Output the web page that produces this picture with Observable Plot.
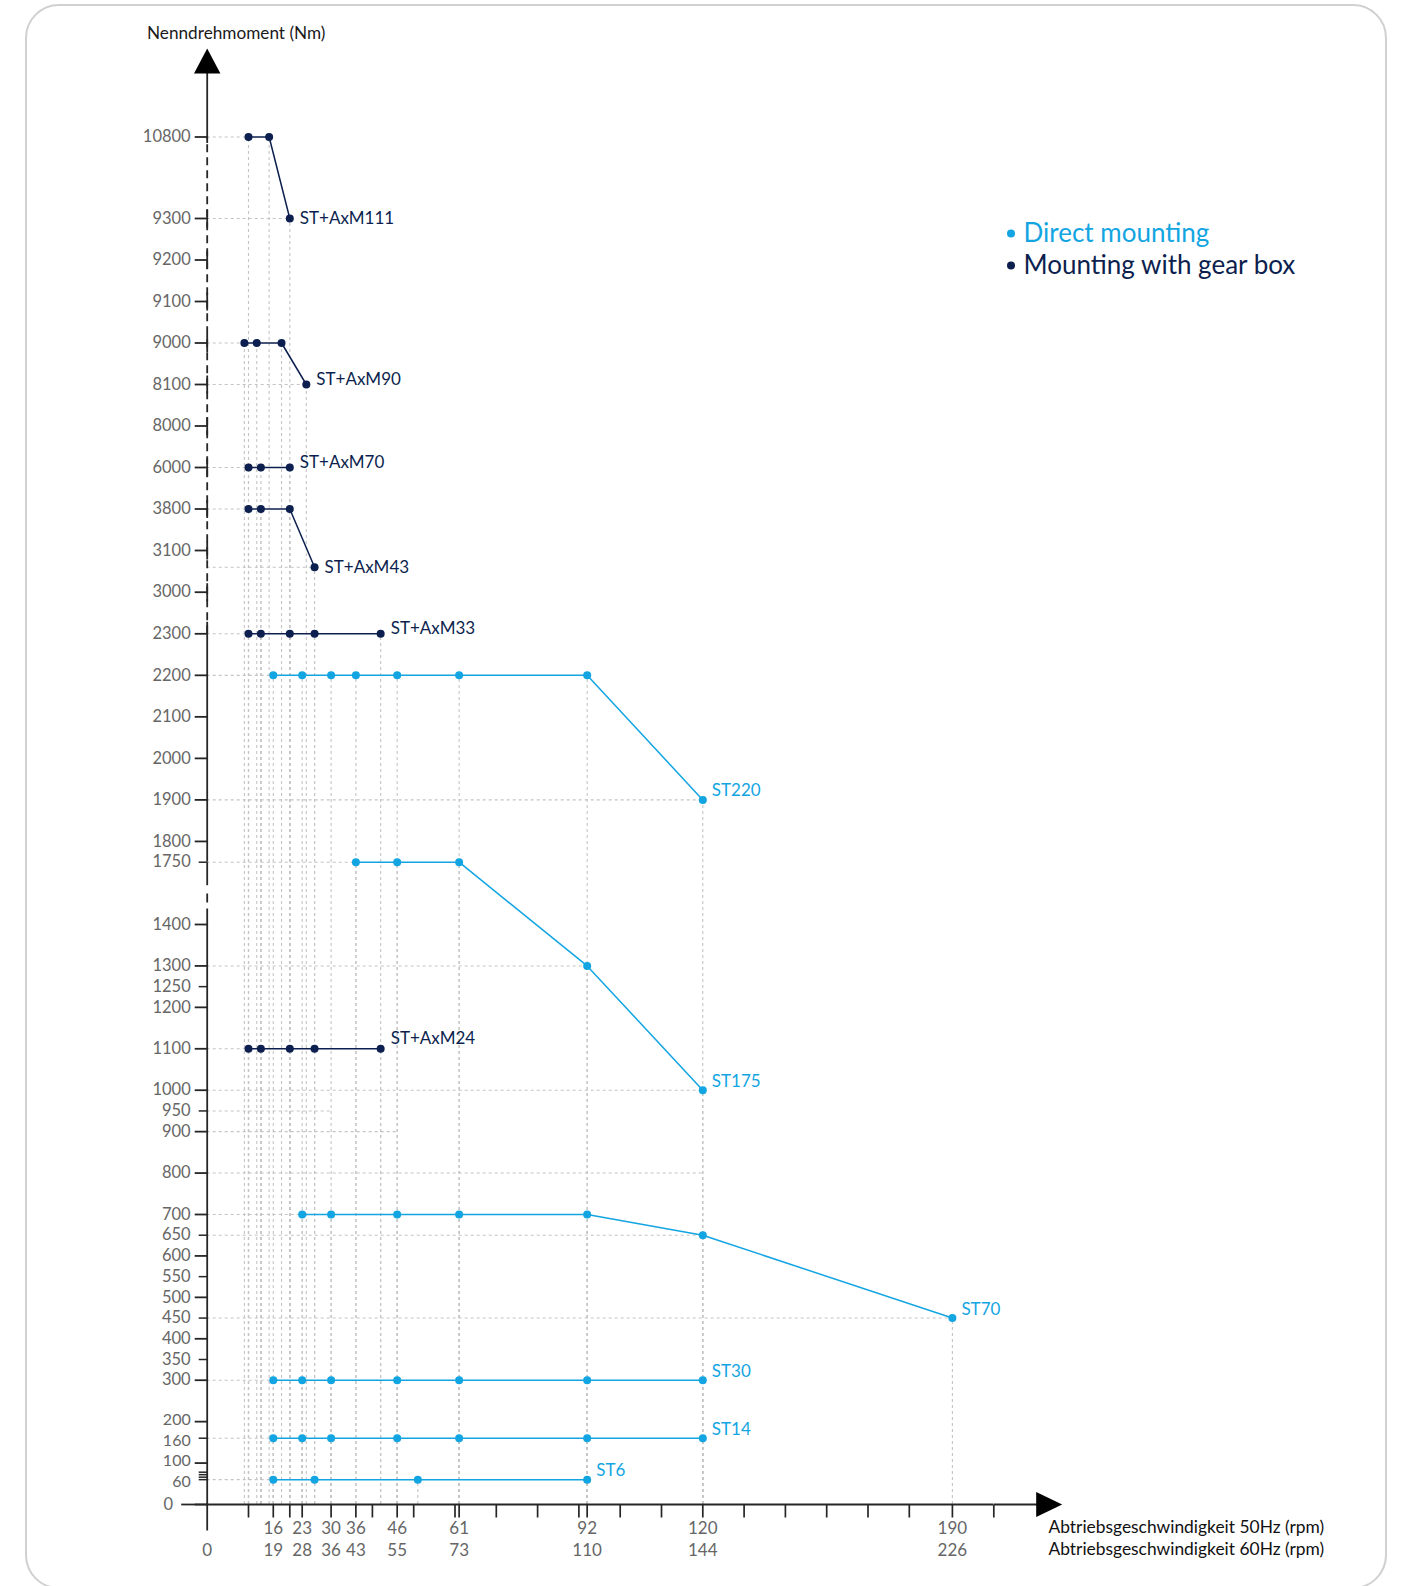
<!DOCTYPE html>
<html>
<head>
<meta charset="utf-8">
<script src="https://cdn.jsdelivr.net/npm/d3@7"></script>
<script src="https://cdn.jsdelivr.net/npm/@observablehq/plot@0.6"></script>
<style>
html, body { margin: 0; padding: 0; background: #fff; overflow: hidden; }
#wrap { position: relative; width: 1401px; height: 1586px; }
#border { position: absolute; left: 25.4px; top: 4.4px; width: 1362px; height: 1585px; box-sizing: border-box;
  border: 2.6px solid #d0d0d0; border-radius: 34px; pointer-events: none; }
</style>
</head>
<body>
<div id="wrap"><div id="border"></div></div>
<script>
// ---------------- data ----------------
const gearNames   = ["ST+AxM111", "ST+AxM90", "ST+AxM70", "ST+AxM43", "ST+AxM33", "ST+AxM24"];
const gearSpeeds  = [[10, 15, 20], [9, 12, 18, 24], [10, 13, 20], [10, 13, 20, 26], [10, 13, 20, 26, 42], [10, 13, 20, 26, 42]];
const gearTorques = [[10800, 10800, 9300], [9000, 9000, 9000, 8100], [6000, 6000, 6000], [3800, 3800, 3800, 3060],
                     [2300, 2300, 2300, 2300, 2300], [1100, 1100, 1100, 1100, 1100]];

const directNames   = ["ST220", "ST175", "ST70", "ST30", "ST14", "ST6"];
const directSpeeds  = [[16, 23, 30, 36, 46, 61, 92, 120], [36, 46, 61, 92, 120], [23, 30, 46, 61, 92, 120, 190],
                       [16, 23, 30, 46, 61, 92, 120], [16, 23, 30, 46, 61, 92, 120], [16, 26, 51, 92]];
const directTorques = [[2200, 2200, 2200, 2200, 2200, 2200, 2200, 1900], [1750, 1750, 1750, 1300, 1000],
                       [700, 700, 700, 700, 700, 650, 450], [300, 300, 300, 300, 300, 300, 300],
                       [160, 160, 160, 160, 160, 160, 160], [60, 60, 60, 60]];

// extra guide lines without points
const guideTorques = [950, 900, 800];
const guideSpeeds  = [30, 46, 120];

// y axis tick labels (Nm)
const yTicks = [0, 60, 100, 160, 200, 300, 350, 400, 450, 500, 550, 600, 650, 700, 800, 900, 950, 1000, 1100, 1200, 1250,
                1300, 1400, 1750, 1800, 1900, 2000, 2100, 2200, 2300, 3000, 3100, 3800, 6000, 8000, 8100, 9000, 9100,
                9200, 9300, 10800];
const yMinorTicks = [66, 72, 78];
// x axis ticks and labels (rpm)
const xTicks = [10, 16, 20, 23, 30, 36, 40, 46, 50, 60, 61, 70, 80, 90, 92, 100, 110, 120, 130, 140, 150, 160, 170, 190, 200];
const speeds50 = [16, 23, 30, 36, 46, 61, 92, 120, 190];
const speeds60 = [19, 28, 36, 43, 55, 73, 110, 144, 226];

const legendLabels = ["Direct mounting", "Mounting with gear box"];

// ---------------- styles ----------------
const NAVY = "#0c1f4e", BLUE = "#12a5e2", GRID = "#c4c4c4", AXIS = "#262626", TXT = "#666666";
const FONT = "Lato, 'Open Sans', sans-serif";

// ---------------- derived tables ----------------
const gearPts = gearNames.flatMap((name, i) => gearSpeeds[i].map((s, j) => ({name, speed: s, torque: gearTorques[i][j]})));
const directPts = directNames.flatMap((name, i) => directSpeeds[i].map((s, j) => ({name, speed: s, torque: directTorques[i][j]})));
const allPts = gearPts.concat(directPts);

const hGuides = d3.rollups(allPts, v => d3.min(v, d => d.speed), d => d.name, d => d.torque)
  .flatMap(([, arr]) => arr.map(([torque, speed]) => ({torque, speed})))
  .concat(guideTorques.map((t, i) => ({torque: t, speed: guideSpeeds[i]})));

const lastOf = pts => d3.groups(pts, d => d.name).map(([, v]) => v[v.length - 1]);
const gearLast = lastOf(gearPts);
const directLast = lastOf(directPts);
const gearLabelLevel = new Map([["ST+AxM111", 0], ["ST+AxM43", 0], ["ST+AxM90", 1], ["ST+AxM70", 1], ["ST+AxM33", 1], ["ST+AxM24", 2]]);

const x60 = [{speed: 0, label: "0"}].concat(speeds50.map((s, i) => ({speed: s, label: String(speeds60[i])})));

// tightly packed low tick labels get nudged apart slightly
const nudgeUp = new Set([100, 200]);
const nudgeDown = new Set([60, 160]);
const yLabelsPlain = yTicks.filter(d => d !== 0 && !nudgeUp.has(d) && !nudgeDown.has(d));

// custom symbols (pixel geometry for axis decorations)
const seg = (x1, y1, x2, y2) => ({draw(ctx) { ctx.moveTo(x1, y1); ctx.lineTo(x2, y2); }});
const multiSeg = (list) => ({draw(ctx) { for (const [x1, y1, x2, y2] of list) { ctx.moveTo(x1, y1); ctx.lineTo(x2, y2); } }});
const tri = (p) => ({draw(ctx) { ctx.moveTo(p[0], p[1]); ctx.lineTo(p[2], p[3]); ctx.lineTo(p[4], p[5]); ctx.closePath(); }});

const upperTicks = [9300, 9200, 9100, 9000, 8100, 8000, 6000, 3800, 3100, 3000];

const axisStyle = {stroke: AXIS, strokeWidth: 1.8, fill: "none"};
const frameText = {frameAnchor: "top-left", text: d => d, textAnchor: "start", lineAnchor: "middle"};
const yLabelStyle = {x: () => 0, y: d => d, text: d => String(d), textAnchor: "end", dx: -16.5, fill: TXT, fontSize: 16.5};

const chart = Plot.plot({
  width: 1401,
  height: 1586,
  margin: 0,
  style: {fontFamily: FONT, fontSize: "17px", background: "transparent"},
  x: {type: "linear", domain: [0, 170, 190, 200], range: [206.7, 908.8, 951.9, 993.3], axis: null},
  y: {type: "linear",
      domain: [0, 1400, 1750, 2300, 3000, 3100, 3800, 6000, 8000, 8100, 9000, 9300, 10800],
      range: [1504, 924, 861.7, 633.3, 591.7, 550, 508.5, 467, 425.5, 384, 342.5, 218, 136.5],
      axis: null},
  marks: [
    // guides
    Plot.ruleY(hGuides, {y: "torque", x1: () => 0, x2: "speed", stroke: GRID, strokeWidth: 1.1, strokeDasharray: "3,3"}),
    Plot.ruleX(allPts, {x: "speed", y1: () => 0, y2: "torque", stroke: GRID, strokeWidth: 1.1, strokeDasharray: "3,3"}),

    // y axis line
    Plot.ruleX([0], {x: d => d, y1: () => 2300, y2: () => 10800, stroke: AXIS, strokeWidth: 1.8, strokeDasharray: "8,5"}),
    Plot.ruleX([0], {x: d => d, y1: () => 1750, y2: () => 2300, stroke: AXIS, strokeWidth: 1.8}),
    Plot.ruleX([0], {x: d => d, y1: () => 0, y2: () => 1400, stroke: AXIS, strokeWidth: 1.8}),
    Plot.dot([10800], {x: () => 0, y: d => d, symbol: seg(0, -64, 0, 6), ...axisStyle}),
    Plot.dot(upperTicks, {x: () => 0, y: d => d, symbol: seg(0, -9, 0, 9), ...axisStyle}),
    Plot.dot([2300], {x: () => 0, y: d => d, symbol: seg(0, -12, 0, 0), ...axisStyle}),
    Plot.dot([1750], {x: () => 0, y: d => d, symbol: seg(0, 0, 0, 23), ...axisStyle}),
    Plot.dot([1400], {x: () => 0, y: d => d, symbol: multiSeg([[0, -31, 0, -22], [0, -16, 0, 0]]), ...axisStyle}),
    Plot.dot([0], {x: () => 0, y: d => d, symbol: seg(0, 0, 0, 26), ...axisStyle}),
    Plot.dot([10800], {x: () => 0, y: d => d, symbol: tri([0, -88.5, 13.2, -63.5, -13.2, -63.5]), fill: "#000", stroke: "none"}),

    // y ticks
    Plot.dot(yTicks.filter(d => d % 100 === 0), {x: () => 0, y: d => d, symbol: seg(-12.5, 0, 0, 0), ...axisStyle}),
    Plot.dot(yTicks.filter(d => d % 100 !== 0).concat(yMinorTicks), {x: () => 0, y: d => d, symbol: seg(-8.5, 0, 0, 0), ...axisStyle, strokeWidth: 1.5}),
    Plot.text(yLabelsPlain, yLabelStyle),
    Plot.text([...nudgeUp], {...yLabelStyle, dy: -2.2, fontSize: 16}),
    Plot.text([...nudgeDown], {...yLabelStyle, dy: 2.2, fontSize: 16}),
    Plot.text([0], {...yLabelStyle, dx: -34}),

    // x axis line
    Plot.ruleY([0], {y: d => d, x1: () => 0, x2: () => 200, stroke: AXIS, strokeWidth: 1.8}),
    Plot.dot([0], {x: d => d, y: () => 0, symbol: seg(-26, 0, 0, 0), ...axisStyle}),
    Plot.dot([200], {x: d => d, y: () => 0, symbol: seg(0, 0, 44, 0), ...axisStyle}),
    Plot.dot([200], {x: d => d, y: () => 0, symbol: tri([42.4, -12.5, 68.4, 0, 42.4, 12.5]), fill: "#000", stroke: "none"}),
    Plot.dot(xTicks, {x: d => d, y: () => 0, symbol: seg(0, 0, 0, 13), ...axisStyle, strokeWidth: 1.7}),
    Plot.text(speeds50, {x: d => d, y: () => 0, text: d => String(d), dy: 24, fill: TXT, fontSize: 17}),
    Plot.text(x60, {x: "speed", y: () => 0, text: "label", dy: 46, fill: TXT, fontSize: 17}),

    // series
    Plot.line(directPts, {x: "speed", y: "torque", z: "name", stroke: BLUE, strokeWidth: 1.5}),
    Plot.line(gearPts, {x: "speed", y: "torque", z: "name", stroke: NAVY, strokeWidth: 1.5}),
    Plot.dot(directPts, {x: "speed", y: "torque", r: 4, fill: BLUE, stroke: "none"}),
    Plot.dot(gearPts, {x: "speed", y: "torque", r: 4, fill: NAVY, stroke: "none"}),
    Plot.text(directLast, {x: "speed", y: "torque", text: "name", textAnchor: "start", dx: 9, dy: -9, fill: BLUE, fontSize: 17}),
    Plot.text(gearLast.filter(d => gearLabelLevel.get(d.name) === 0), {x: "speed", y: "torque", text: "name", textAnchor: "start", dx: 10, dy: 0, fill: NAVY, fontSize: 17}),
    Plot.text(gearLast.filter(d => gearLabelLevel.get(d.name) === 1), {x: "speed", y: "torque", text: "name", textAnchor: "start", dx: 10, dy: -5, fill: NAVY, fontSize: 17}),
    Plot.text(gearLast.filter(d => gearLabelLevel.get(d.name) === 2), {x: "speed", y: "torque", text: "name", textAnchor: "start", dx: 10, dy: -10, fill: NAVY, fontSize: 17}),

    // titles
    Plot.text(["Nenndrehmoment (Nm)"], {...frameText, dx: 146.5, dy: 32.5, fill: "#1a1a1a", fontSize: 17.2}),
    Plot.text(["Abtriebsgeschwindigkeit 50Hz (rpm)"], {...frameText, dx: 1048, dy: 1527, fill: "#111", fontSize: 17.4}),
    Plot.text(["Abtriebsgeschwindigkeit 60Hz (rpm)"], {...frameText, dx: 1048, dy: 1549, fill: "#111", fontSize: 17.4}),

    // legend
    Plot.dot([0], {frameAnchor: "top-left", dx: 1010.5, dy: 233, r: 4, fill: BLUE, stroke: "none"}),
    Plot.dot([0], {frameAnchor: "top-left", dx: 1010.5, dy: 265, r: 4, fill: NAVY, stroke: "none"}),
    Plot.text([legendLabels[0]], {...frameText, dx: 1023, dy: 233, fill: BLUE, fontSize: 26}),
    Plot.text([legendLabels[1]], {...frameText, dx: 1023, dy: 265, fill: NAVY, fontSize: 26})
  ]
});
document.getElementById("wrap").prepend(chart);
</script>
</body>
</html>
